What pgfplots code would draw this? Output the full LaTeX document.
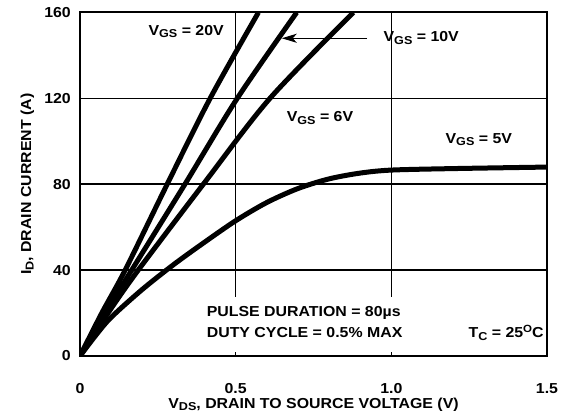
\documentclass[border=0pt]{standalone}
\usepackage{fontspec}
\setmainfont{Liberation Sans}[FakeStretch=1.1]
\usepackage{pgfplots}
\pgfplotsset{compat=1.18}
\usetikzlibrary{arrows.meta,calc}

\newcommand{\lbl}{\fontsize{14.5}{16}\selectfont\bfseries}
\newcommand{\lsub}[1]{\raisebox{-0.35ex}{\fontsize{11.5}{12}\selectfont #1}}
\newcommand{\lsup}[1]{\raisebox{0.75ex}{\fontsize{10.5}{12}\selectfont #1}}
\tikzset{curve/.style={black, line width=5bp, mark=none, smooth}}

\begin{document}
\begin{tikzpicture}
\begin{axis}[
    width=467bp, height=343.5bp, scale only axis,
    xmin=0, xmax=1.5, ymin=0, ymax=160,
    xtick={0,0.5,1,1.5}, xticklabels={0,0.5,1.0,1.5},
    ytick={0,40,80,120,160},
    grid=major, grid style={black, line width=1.6bp},
    axis line style={line width=2bp},
    major tick length=4bp, tick style={black, line width=1.5bp},
    tick label style={font=\lbl},
    /pgf/number format/assume math mode=true,
    xticklabel style={anchor=base, yshift=-37bp},
    yticklabel style={anchor=east, inner sep=0pt, xshift=-9bp},
    xlabel={V\lsub{DS}, DRAIN TO SOURCE VOLTAGE (V)},
    ylabel={I\lsub{D}, DRAIN CURRENT (A)},
    every axis x label/.style={at={(axis description cs:0.5,-0.1514)}, anchor=base, font=\lbl},
    every axis y label/.style={at={(axis description cs:-0.1049,0.5)}, rotate=90, anchor=base, font=\lbl},
]
\coordinate (ll) at (rel axis cs:0,0);
\coordinate (ur) at (rel axis cs:1,1);

% white box behind the test conditions
\fill[white] (axis cs:0.38,1.9) rectangle (axis cs:1.12,27.5);

% VGS = 20V
\addplot[curve] coordinates {(0,0) (0.07,20) (0.145,40) (0.28,80) (0.418,120) (0.573,160)};
% VGS = 10V
\addplot[curve] coordinates {(0,0) (0.08,20) (0.166,40) (0.337,80) (0.505,120) (0.696,160)};
% VGS = 6V
\addplot[curve] coordinates {(0,0) (0.09,20) (0.187,40) (0.396,80) (0.61,120) (0.878,160)};
% VGS = 5V
\addplot[curve] coordinates {(0,0) (0.05,9.5) (0.1,18) (0.2,31) (0.3,42.5) (0.4,53) (0.5,63)
    (0.6,71.5) (0.7,78) (0.8,82.5) (0.9,85.2) (1.0,86.6) (1.2,87.3) (1.5,88)};

\node[anchor=base west, font=\lbl] at (axis cs:0.209,149.5) {V\lsub{GS} = 20V};
\node[anchor=base west, font=\lbl] at (axis cs:0.964,146.3) {V\lsub{GS} = 10V};
\node[anchor=base west, font=\lbl] at (axis cs:0.653,109) {V\lsub{GS} = 6V};
\node[anchor=base west, font=\lbl] at (axis cs:1.163,99.2) {V\lsub{GS} = 5V};
\draw[line width=1bp, -{Stealth[length=15bp, width=9bp, inset=4bp]}] (axis cs:0.922,148) -- (axis cs:0.648,148);

\node[anchor=base west, font=\lbl] at (axis cs:0.396,18.2) {PULSE DURATION = 80µs};
\node[anchor=base west, font=\lbl] at (axis cs:0.396,8.4) {DUTY CYCLE = 0.5\% MAX};
\node[anchor=base west, font=\lbl] at (axis cs:1.237,8.4) {T\lsub{C} = 25\lsup{O}C};
\end{axis}
\pgfresetboundingbox
\path ($(ll)+(-80bp,-62bp)$) rectangle ($(ur)+(17bp,12.5bp)$);
\end{tikzpicture}
\end{document}
